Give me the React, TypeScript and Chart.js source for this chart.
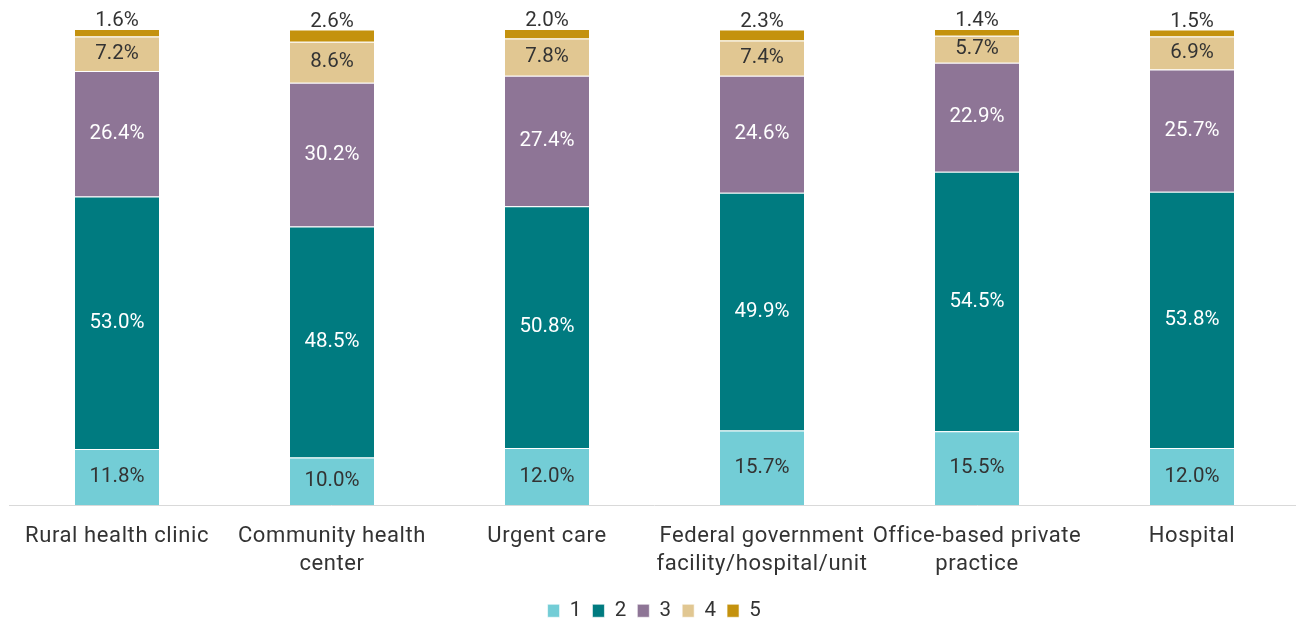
import React, { useEffect, useRef } from "react";
import { Chart, registerables } from "chart.js";

Chart.register(...registerables);

const categories: (string | string[])[] = [
  "Rural health clinic",
  ["Community health", "center"],
  "Urgent care",
  ["Federal government", "facility/hospital/unit"],
  ["Office-based private", "practice"],
  "Hospital",
];

const seriesNames = ["1", "2", "3", "4", "5"];
const s1 = [11.8, 10.0, 12.0, 15.7, 15.5, 12.0];
const s2 = [53.0, 48.5, 50.8, 49.9, 54.5, 53.8];
const s3 = [26.4, 30.2, 27.4, 24.6, 22.9, 25.7];
const s4 = [7.2, 8.6, 7.8, 7.4, 5.7, 6.9];
const s5 = [1.6, 2.6, 2.0, 2.3, 1.4, 1.5];

const colors = ["#73CDD6", "#007B80", "#8E7596", "#E1C792", "#C4920E"];
const labelColors = ["#333333", "#FFFFFF", "#FFFFFF", "#333333", "#333333"];

const FONT = "Roboto, 'Noto Sans', sans-serif";

const spacingPlugin = {
  id: "spacing",
  beforeUpdate(chart: any) {
    chart.ctx.letterSpacing = "0.6px";
  },
  beforeDraw(chart: any) {
    chart.ctx.letterSpacing = "0.6px";
  },
};

const labelPlugin = {
  id: "segLabels",
  afterDatasetsDraw(chart: any) {
    const ctx = chart.ctx;
    ctx.save();
    ctx.letterSpacing = "0px";
    ctx.font = `20.5px ${FONT}`;
    ctx.textAlign = "center";
    ctx.textBaseline = "middle";
    chart.data.datasets.forEach((ds: any, i: number) => {
      const meta = chart.getDatasetMeta(i);
      meta.data.forEach((bar: any, j: number) => {
        const v = ds.data[j];
        const { x, y, base } = bar.getProps(["x", "y", "base"], true);
        const text = v.toFixed(1) + "%";
        ctx.fillStyle = labelColors[i];
        if (i === 4) {
          ctx.fillText(text, x, y - 8);
        } else {
          ctx.fillText(text, x, (y + base) / 2);
        }
      });
    });
    ctx.restore();
  },
};

export default function App() {
  const ref = useRef<HTMLCanvasElement>(null);
  useEffect(() => {
    const data = [s1, s2, s3, s4, s5];
    const chart = new Chart(ref.current!, {
      type: "bar",
      data: {
        labels: categories,
        datasets: seriesNames.map((n, i) => ({
          label: n,
          data: data[i],
          backgroundColor: colors[i],
          borderColor: "rgba(255,255,255,0.6)",
          borderWidth: 1,
          barPercentage: 0.4,
          categoryPercentage: 1,
        })),
      },
      options: {
        responsive: false,
        animation: false,
        layout: { padding: { left: 9.5, right: 4.5, top: 29, bottom: 0 } },
        plugins: {
          legend: {
            position: "bottom",
            labels: {
              boxWidth: 12,
              boxHeight: 13,
              padding: 10.5,
              color: "#333333",
              font: { family: FONT, size: 20.5 },
            },
          },
          tooltip: { enabled: false },
        },
        scales: {
          x: {
            stacked: true,
            grid: { display: false, drawTicks: false },
            border: { display: true, color: "#D9D9D9", width: 1 },
            afterFit: (s: any) => {
              s.height -= 6.5;
            },
            ticks: {
              color: "#333333",
              padding: 17.5,
              maxRotation: 0,
              autoSkip: false,
              font: { family: FONT, size: 22, lineHeight: 1.28 },
            },
          },
          y: {
            stacked: true,
            display: false,
            min: 0,
            max: 100,
          },
        },
      },
      plugins: [spacingPlugin, labelPlugin],
    });
    return () => chart.destroy();
  }, []);
  return (
    <div style={{ position: "absolute", left: 0, top: 0, width: 1296, height: 620, overflow: "hidden", background: "#fff" }}>
      <canvas ref={ref} width={1304} height={631} style={{ width: 1304, height: 631 }} />
    </div>
  );
}
